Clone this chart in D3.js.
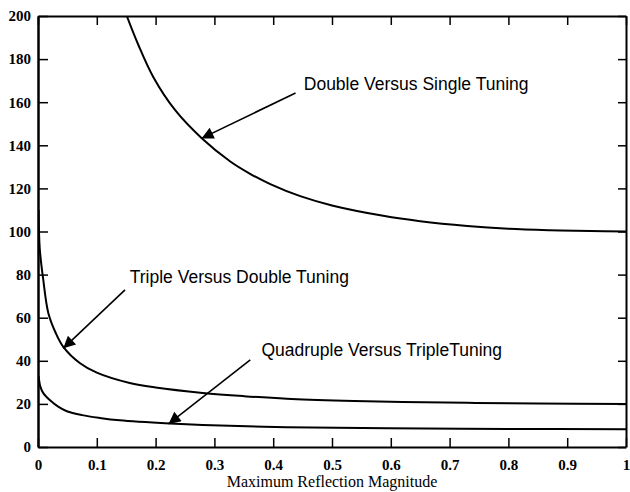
<!DOCTYPE html>
<html><head><meta charset="utf-8">
<script src="https://cdn.jsdelivr.net/npm/d3@7"></script>
<style>body{margin:0;background:#fff}svg{display:block}</style>
</head><body>
<svg id="c" width="630" height="492"></svg>
<script>
const xTicks = [0,0.1,0.2,0.3,0.4,0.5,0.6,0.7,0.8,0.9,1];
const xTickLabels = ["0","0.1","0.2","0.3","0.4","0.5","0.6","0.7","0.8","0.9","1"];
const yTicks = [0,20,40,60,80,100,120,140,160,180,200];
const xLabel = "Maximum Reflection Magnitude";

const doubleX = [0.151,0.17,0.196,0.233,0.278,0.327,0.36,0.395,0.446,0.5,0.587,0.65,0.73,0.8,0.871,0.94,1.0];
const doubleY = [200,187,171.7,156.4,143.4,132.5,126.9,122,116.4,112.1,107.3,104.8,102.6,101.3,100.6,100.2,100];
const tripleX = [0.001,0.003,0.009,0.0175,0.03,0.043,0.071,0.1,0.156,0.2,0.28,0.35,0.423,0.52,0.62,0.73,0.85,1.0];
const tripleY = [110,92,77.5,62.2,53,46.5,39,34.5,29.7,27.6,25.1,23.6,22.4,21.5,20.9,20.5,20.2,20];
const quadX = [0.001,0.004,0.009,0.02,0.035,0.049,0.075,0.105,0.139,0.224,0.28,0.423,0.594,0.8,1.0];
const quadY = [33,28,25,21.8,18.6,16.6,14.8,13.5,12.4,10.9,10.2,9.2,8.7,8.4,8.2];

const annoText = ["Double Versus Single Tuning","Triple Versus Double Tuning","Quadruple Versus TripleTuning"];
const annoTextX = [0.452,0.156,0.380];
const annoTextY = [165.7,76.1,42.2];
const arrowFromX = [0.438,0.148,0.361];
const arrowFromY = [164.3,72.9,40.4];
const arrowToX = [0.278,0.043,0.222];
const arrowToY = [143.2,45.8,10.7];

const svg = d3.select("#c");
const L=38,R=626,T=16,B=447;
const x = d3.scaleLinear().domain([0,1]).range([L,R]);
const y = d3.scaleLinear().domain([0,200]).range([B,T]);

const defs = svg.append("defs");
defs.append("clipPath").attr("id","clip").append("rect").attr("x",L).attr("y",T).attr("width",R-L).attr("height",B-T);
defs.append("marker").attr("id","ah").attr("viewBox","0 0 10 10").attr("refX",10).attr("refY",5)
  .attr("markerWidth",15).attr("markerHeight",12).attr("markerUnits","userSpaceOnUse").attr("orient","auto")
  .append("path").attr("d","M0,0L10,5L0,10z").attr("fill","#000");

const fmtX = (d,i)=>xTickLabels[i];
const gB = svg.append("g").attr("transform",`translate(0,${B})`)
  .call(d3.axisBottom(x).tickValues(xTicks).tickFormat(fmtX).tickSizeInner(-9).tickSizeOuter(0).tickPadding(12));
const gT = svg.append("g").attr("transform",`translate(0,${T})`)
  .call(d3.axisTop(x).tickValues(xTicks).tickFormat("").tickSizeInner(-9).tickSizeOuter(0));
const gL = svg.append("g").attr("transform",`translate(${L},0)`)
  .call(d3.axisLeft(y).tickValues(yTicks).tickSizeInner(-10).tickSizeOuter(0).tickPadding(7));
const gR = svg.append("g").attr("transform",`translate(${R},0)`)
  .call(d3.axisRight(y).tickValues(yTicks).tickFormat("").tickSizeInner(-8).tickSizeOuter(0));
[gB,gT,gL,gR].forEach(g=>{
  g.select(".domain").attr("stroke","#000").attr("stroke-width",2);
  g.selectAll(".tick line").attr("stroke","#000").attr("stroke-width",1.5);
  g.selectAll("text").attr("font-family","'Liberation Serif','Times New Roman',serif")
   .attr("font-weight","bold").attr("font-size",15).attr("fill","#000");
});
gL.select(".domain").attr("stroke-width",2.5);

svg.append("text").attr("x",(L+R)/2).attr("y",487).attr("text-anchor","middle")
  .attr("font-family","'Liberation Serif','Times New Roman',serif").attr("font-size",16).text(xLabel);

const line = d3.line().x(d=>x(d[0])).y(d=>y(d[1])).curve(d3.curveCatmullRom.alpha(0.5));
const series = [[doubleX,doubleY],[tripleX,tripleY],[quadX,quadY]];
svg.append("g").attr("clip-path","url(#clip)").selectAll("path").data(series).join("path")
  .attr("d",s=>line(s[0].map((v,i)=>[v,s[1][i]])))
  .attr("fill","none").attr("stroke","#000").attr("stroke-width",2);

const ga = svg.append("g");
annoText.forEach((t,i)=>{
  ga.append("line").attr("x1",x(arrowFromX[i])).attr("y1",y(arrowFromY[i]))
    .attr("x2",x(arrowToX[i])).attr("y2",y(arrowToY[i]))
    .attr("stroke","#000").attr("stroke-width",1.6).attr("marker-end","url(#ah)");
  ga.append("text").attr("x",x(annoTextX[i])).attr("y",y(annoTextY[i]))
    .attr("font-family","'Liberation Sans',Arial,sans-serif").attr("font-size",17.5).attr("fill","#000").text(t);
});
</script>
</body></html>
